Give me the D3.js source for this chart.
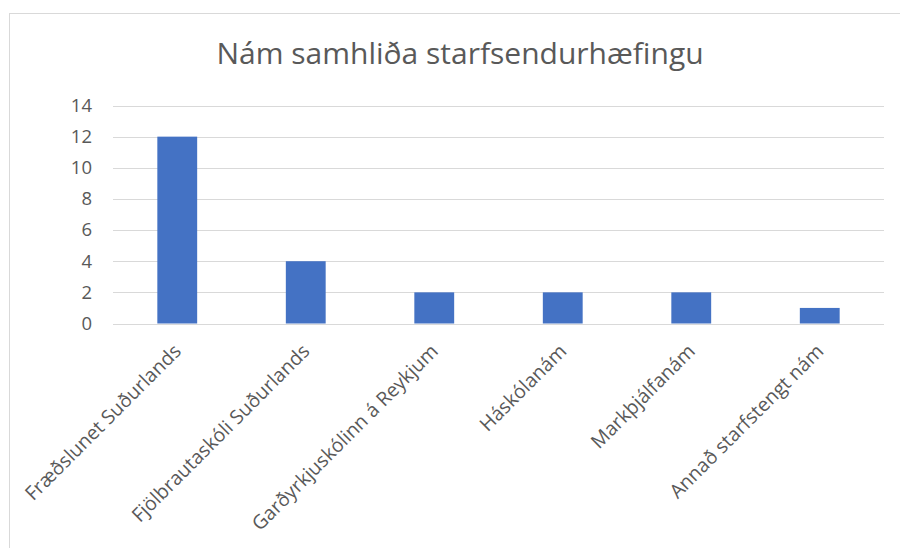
<!DOCTYPE html>
<html>
<head>
<meta charset="utf-8">
<script src="https://cdn.jsdelivr.net/npm/d3@7"></script>
<style>
    body { margin: 0; background: #fff; }
    svg { display: block; }
    text { font-family: "Open Sans", "Liberation Sans", sans-serif; fill: #595959; }
</style>
</head>
<body>
<svg width="900" height="548"></svg>
<script>
// Chart data.
var title = "Nám samhliða starfsendurhæfingu";
var categories = [
    "Fræðslunet Suðurlands",
    "Fjölbrautaskóli Suðurlands",
    "Garðyrkjuskólinn á Reykjum",
    "Háskólanám",
    "Markþjálfanám",
    "Annað starfstengt nám"
];
var values = [12, 4, 2, 2, 2, 1];
var yTicks = [0, 2, 4, 6, 8, 10, 12, 14];

var svg = d3.select("svg");

// Outer chart frame.
svg.append("rect")
    .attr("x", 9.5)
    .attr("y", 13.5)
    .attr("width", 900)
    .attr("height", 560)
    .attr("fill", "none")
    .attr("stroke", "#d9d9d9");

var x = d3.scaleBand()
    .domain(categories)
    .range([113, 884])
    .paddingInner(0.69)
    .paddingOuter(0.345);

var y = d3.scaleLinear()
    .domain([0, 14])
    .range([323.5, 105.5]);

// Gridlines.
svg.append("g")
    .selectAll("line")
    .data(yTicks)
    .join("line")
    .attr("x1", 113)
    .attr("x2", 884)
    .attr("y1", function(d) { return Math.round(y(d)) + 0.5; })
    .attr("y2", function(d) { return Math.round(y(d)) + 0.5; })
    .attr("stroke", "#d9d9d9")
    .attr("stroke-width", 1);

// Y axis labels.
var yAxis = d3.axisLeft(y).tickValues(yTicks).tickSize(0).tickPadding(0);
var yg = svg.append("g")
    .attr("transform", "translate(92,0)")
    .call(yAxis);
yg.select(".domain").remove();
yg.selectAll("text")
    .attr("font-size", 18.5)
    .attr("fill", "#595959")
    .style("font-family", "'Open Sans', sans-serif");

// Bars.
svg.append("g")
    .selectAll("rect")
    .data(values)
    .join("rect")
    .attr("x", function(d, i) { return x(categories[i]); })
    .attr("y", function(d) { return y(d); })
    .attr("width", x.bandwidth())
    .attr("height", function(d) { return y(0) - y(d); })
    .attr("fill", "#4472c4");

// Baseline on top of bars.
svg.append("line")
    .attr("x1", 113)
    .attr("x2", 884)
    .attr("y1", Math.round(y(0)) + 0.5)
    .attr("y2", Math.round(y(0)) + 0.5)
    .attr("stroke", "#d9d9d9");

// Category labels, rotated like Excel.
var xAxis = d3.axisBottom(x).tickSize(0).tickPadding(0);
var xg = svg.append("g")
    .attr("transform", "translate(0," + y(0) + ")")
    .call(xAxis);
xg.select(".domain").remove();
xg.selectAll("text")
    .attr("font-size", 19.5)
    .attr("fill", "#595959")
    .style("font-family", "'Open Sans', sans-serif")
    .attr("text-anchor", "end")
    .attr("dy", null)
    .attr("y", 0)
    .attr("transform", "translate(5,29) rotate(-45)");

// Title.
svg.append("text")
    .attr("x", 460)
    .attr("y", 63.5)
    .attr("text-anchor", "middle")
    .attr("font-size", 30)
    .text(title);
</script>
</body>
</html>
